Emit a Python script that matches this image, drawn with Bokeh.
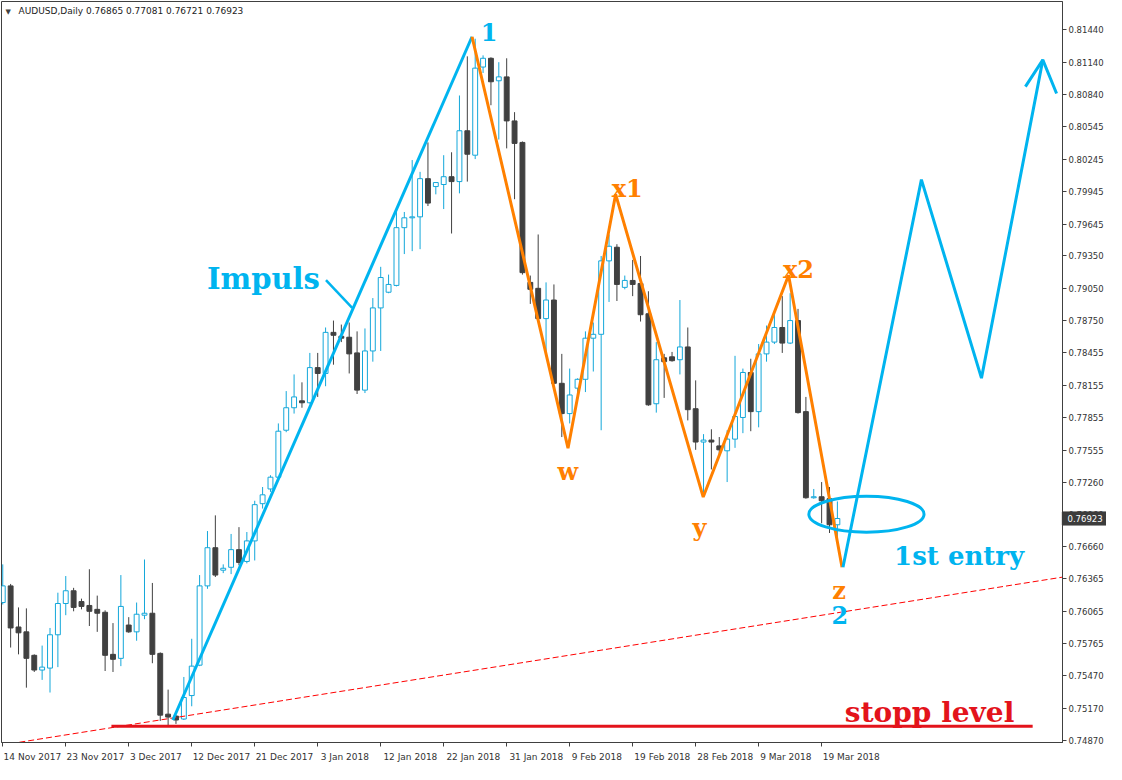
from bokeh.plotting import figure
from bokeh.models import Range1d, FixedTicker, PrintfTickFormatter, Label
from bokeh.core.properties import value
from bokeh.embed import file_html
from bokeh.resources import INLINE

# ---------------- data ----------------
symbol = "AUDUSD,Daily"
tick_labels = ["14 Nov 2017", "23 Nov 2017", "3 Dec 2017", "12 Dec 2017", "21 Dec 2017",
               "3 Jan 2018", "12 Jan 2018", "22 Jan 2018", "31 Jan 2018", "9 Feb 2018",
               "19 Feb 2018", "28 Feb 2018", "9 Mar 2018", "19 Mar 2018"]
bars_per_label = 8

opens = [0.76146, 0.76300, 0.75920, 0.75875, 0.75658, 0.75522, 0.75540, 0.75848, 0.76137, 0.76255,
         0.76155, 0.76119, 0.76083, 0.76056, 0.75667, 0.75630, 0.75938, 0.75875, 0.76029, 0.76047,
         0.75676, 0.75114, 0.75096, 0.75069, 0.75286, 0.75567, 0.76300, 0.76653, 0.76445, 0.76472,
         0.76635, 0.76526, 0.76716, 0.77060, 0.77196, 0.77305, 0.77739, 0.77947, 0.78011, 0.77993,
         0.78318, 0.78264, 0.78644, 0.78608, 0.78599, 0.78454, 0.78110, 0.78472, 0.78870, 0.79015,
         0.79078, 0.79612, 0.79703, 0.79712, 0.80065, 0.79992, 0.80011, 0.80083, 0.80038, 0.80508,
         0.80282, 0.81097, 0.81178, 0.80970, 0.81006, 0.80599, 0.80400, 0.79106, 0.79051, 0.78771,
         0.78943, 0.78173, 0.77893, 0.78128, 0.78210, 0.78590, 0.78626, 0.79305, 0.79431, 0.79060,
         0.79124, 0.79096, 0.78816, 0.77984, 0.78409, 0.78418, 0.78391, 0.78509, 0.77938, 0.77630,
         0.77648, 0.77594, 0.77549, 0.77657, 0.77857, 0.78273, 0.77911, 0.78445, 0.78554, 0.78689,
         0.78545, 0.78753, 0.77911, 0.77115, 0.77124, 0.77106, 0.76865]
highs = [0.76499, 0.76318, 0.76101, 0.76092, 0.75667, 0.75748, 0.75911, 0.76237, 0.76391, 0.76282,
         0.76182, 0.76454, 0.76210, 0.76074, 0.75956, 0.76400, 0.76011, 0.76146, 0.76544, 0.76327,
         0.75685, 0.75341, 0.75105, 0.75458, 0.75811, 0.76400, 0.76807, 0.76952, 0.76499, 0.76780,
         0.76843, 0.76798, 0.77087, 0.77214, 0.77323, 0.77802, 0.78101, 0.78255, 0.78182, 0.78454,
         0.78454, 0.78689, 0.78753, 0.78716, 0.78735, 0.78653, 0.78680, 0.78961, 0.79250, 0.79178,
         0.79775, 0.79757, 0.80237, 0.80128, 0.80400, 0.80029, 0.80282, 0.80309, 0.80834, 0.81196,
         0.81359, 0.81205, 0.81187, 0.81142, 0.81178, 0.80680, 0.80409, 0.79169, 0.79549, 0.79106,
         0.79087, 0.78445, 0.78309, 0.78219, 0.78653, 0.78735, 0.79350, 0.79549, 0.79459, 0.79169,
         0.79314, 0.79350, 0.79024, 0.78554, 0.78445, 0.78463, 0.78943, 0.78689, 0.78200, 0.77703,
         0.77748, 0.77676, 0.77739, 0.78427, 0.78309, 0.78400, 0.78536, 0.78707, 0.78825, 0.78979,
         0.79006, 0.78861, 0.78047, 0.77196, 0.77260, 0.77214, 0.77081]
lows = [0.76128, 0.75730, 0.75667, 0.75359, 0.75504, 0.75431, 0.75314, 0.75549, 0.76029, 0.76065,
        0.76083, 0.75929, 0.75875, 0.75513, 0.75504, 0.75558, 0.75866, 0.75793, 0.75992, 0.75585,
        0.75051, 0.75006, 0.75024, 0.75060, 0.75187, 0.75558, 0.76273, 0.76382, 0.76418, 0.76409,
        0.76490, 0.76508, 0.76535, 0.77015, 0.77169, 0.77287, 0.77721, 0.77893, 0.77947, 0.77984,
        0.78047, 0.78146, 0.78345, 0.78554, 0.78264, 0.78074, 0.78083, 0.78373, 0.78472, 0.79006,
        0.79069, 0.79368, 0.79395, 0.79413, 0.79812, 0.79920, 0.79784, 0.79558, 0.79929, 0.80038,
        0.80246, 0.81042, 0.80744, 0.80427, 0.80345, 0.79875, 0.79178, 0.78907, 0.78760, 0.78463,
        0.78164, 0.77676, 0.77802, 0.78092, 0.78092, 0.78282, 0.77739, 0.78925, 0.78934, 0.79042,
        0.78979, 0.78744, 0.77965, 0.77902, 0.78038, 0.78373, 0.78255, 0.77830, 0.77558, 0.77133,
        0.77377, 0.77495, 0.77260, 0.77576, 0.77712, 0.77730, 0.77766, 0.78373, 0.78536, 0.78454,
        0.78536, 0.77893, 0.77106, 0.77106, 0.76879, 0.76789, 0.76721]
closes = [0.76300, 0.75911, 0.75866, 0.75630, 0.75522, 0.75549, 0.75848, 0.76137, 0.76255, 0.76101,
          0.76110, 0.76065, 0.76047, 0.75658, 0.75621, 0.76110, 0.75875, 0.76038, 0.76047, 0.75667,
          0.75105, 0.75087, 0.75060, 0.75268, 0.75558, 0.76300, 0.76653, 0.76400, 0.76463, 0.76635,
          0.76517, 0.76716, 0.77051, 0.77142, 0.77305, 0.77730, 0.77947, 0.78047, 0.77993, 0.78318,
          0.78264, 0.78644, 0.78617, 0.78590, 0.78445, 0.78110, 0.78472, 0.78870, 0.79151, 0.79087,
          0.79612, 0.79703, 0.79712, 0.80065, 0.79839, 0.80029, 0.80083, 0.80038, 0.80508, 0.80291,
          0.81087, 0.81178, 0.80961, 0.81006, 0.80599, 0.80391, 0.79196, 0.79042, 0.78771, 0.78943,
          0.78173, 0.77893, 0.78065, 0.78210, 0.78590, 0.78626, 0.79305, 0.79440, 0.79087, 0.79124,
          0.79087, 0.78807, 0.77974, 0.78391, 0.78373, 0.78382, 0.78509, 0.77929, 0.77630, 0.77648,
          0.77630, 0.77558, 0.77657, 0.77866, 0.78273, 0.77911, 0.78445, 0.78554, 0.78689, 0.78545,
          0.78753, 0.77902, 0.77115, 0.77124, 0.77087, 0.76865, 0.76923]

price_ticks = [0.81440, 0.81140, 0.80840, 0.80545, 0.80245, 0.79945, 0.79645, 0.79350, 0.79050,
               0.78750, 0.78455, 0.78155, 0.77855, 0.77555, 0.77260, 0.76960, 0.76660, 0.76365,
               0.76065, 0.75765, 0.75470, 0.75170, 0.74870]

# hand-drawn analysis (bar index, price)
impulse_x = [21.6, 59.6]
impulse_y = [0.75060, 0.81377]
pointer_x = [41.05, 44.38]
pointer_y = [0.79126, 0.78870]
wave_x = [59.6, 71.79, 77.84, 88.96, 99.8, 106.59]
wave_y = [0.81377, 0.77573, 0.79920, 0.77121, 0.79172, 0.76472]
proj_x = [106.71, 116.67, 124.3, 132.09]
proj_y = [0.76472, 0.80056, 0.78221, 0.81163]
arrow_x = [129.88, 132.09, 133.84]
arrow_y = [0.80916, 0.81163, 0.80852]
entry_x, entry_y, entry_w, entry_h = 109.69, 0.76963, 14.63, 0.00332
stop_x = [13.8, 130.8]
stop_y = [0.75003, 0.75003]
trend_x = [-0.16, 134.59]
trend_y = [0.74828, 0.76381]

orange_labels = ["w", "x1", "y", "x2", "z"]
orange_label_x = [71.77, 79.31, 88.5, 101.06, 106.2]
orange_label_y = [0.77359, 0.79974, 0.76843, 0.79223, 0.76255]
blue_labels = ["1", "2"]
blue_label_x = [61.78, 106.3]
blue_label_y = [0.81422, 0.76035]
entry_text, entry_text_x, entry_text_y = "1st entry", 121.46, 0.76572
impuls_text, impuls_x, impuls_y = "Impuls", 33.1, 0.79133
stop_text, stop_text_x, stop_text_y = "stopp level", 117.71, 0.75133

# ---------------- styling ----------------
BULL = "#13A7DA"
BEAR = "#404040"
BLUE = "#00B4EF"
ORANGE = "#FF8000"
RED = "#E3131B"
AXIS = "#404040"
FONT = "DejaVu Sans"
SERIF = "DejaVu Serif"

x_start, x_end = -0.16, 134.59
y_start, y_end = 0.74852, 0.81703

p = figure(width=1106, height=764, output_backend="svg", toolbar_location=None,
           x_range=Range1d(x_start, x_end), y_range=Range1d(y_start, y_end),
           y_axis_location="right", x_axis_location="below",
           min_border_left=1, min_border_top=1, min_border_right=0, min_border_bottom=0,
           background_fill_color="white", border_fill_color="white")
p.xgrid.visible = False
p.ygrid.visible = False
p.outline_line_color = AXIS
p.outline_line_width = 1

# x axis: dates every 8 bars (labels start at the tick, as in the terminal)
n = len(opens)
idx = list(range(n))
bar_px = 1055 / (x_end - x_start)
tick_pos = [i * bars_per_label for i in range(len(tick_labels))]
label_pos = [t + (2 + 2.5 * len(lbl)) / bar_px for t, lbl in zip(tick_pos, tick_labels)]
xa = p.xaxis[0]
xa.ticker = FixedTicker(ticks=label_pos, minor_ticks=tick_pos)
xa.major_label_overrides = {pos: lbl for pos, lbl in zip(label_pos, tick_labels)}
xa.major_tick_out = 0
xa.major_tick_in = 0
xa.minor_tick_out = 4
xa.minor_tick_in = 0
xa.minor_tick_line_color = AXIS
xa.axis_line_color = AXIS
xa.major_label_standoff = 5
xa.major_label_text_font = FONT
xa.major_label_text_font_size = "9px"
xa.major_label_text_color = "#333333"

ya = p.yaxis[0]
ya.ticker = FixedTicker(ticks=price_ticks)
ya.formatter = PrintfTickFormatter(format="%.5f")
ya.major_tick_out = 4
ya.major_tick_in = 0
ya.minor_tick_out = 0
ya.minor_tick_in = 0
ya.major_tick_line_color = AXIS
ya.axis_line_color = AXIS
ya.major_label_standoff = 2
ya.major_label_text_font = FONT
ya.major_label_text_font_size = "8.5px"
ya.major_label_text_color = "#333333"

# ---------------- candles ----------------
is_bull = [c >= o for o, c in zip(opens, closes)]
colors = [BULL if b else BEAR for b in is_bull]
fills = ["white" if b else BEAR for b in is_bull]
tops = [max(o, c) for o, c in zip(opens, closes)]
bottoms = [min(o, c) for o, c in zip(opens, closes)]

p.segment(x0=idx, y0=highs, x1=idx, y1=lows, line_color=colors, line_width=1)
p.vbar(x=idx, width=0.62, top=tops, bottom=bottoms, fill_color=fills, line_color=colors, line_width=1)

# ---------------- analysis drawing ----------------
p.line(trend_x, trend_y, line_color="#FF0000", line_width=1, line_dash="6 3")
p.line(stop_x, stop_y, line_color=RED, line_width=3)
p.line(impulse_x, impulse_y, line_color=BLUE, line_width=3)
p.line(pointer_x, pointer_y, line_color=BLUE, line_width=2.5)
p.line(wave_x, wave_y, line_color=ORANGE, line_width=3)
p.line(proj_x, proj_y, line_color=BLUE, line_width=3)
p.line(arrow_x, arrow_y, line_color=BLUE, line_width=3)
p.ellipse(x=[entry_x], y=[entry_y], width=[entry_w], height=[entry_h],
          fill_alpha=0, line_color=BLUE, line_width=3)

p.text(x=orange_label_x, y=orange_label_y, text=orange_labels, text_color=ORANGE,
       text_font=value(SERIF), text_font_style="bold", text_font_size="24px",
       text_align="center", text_baseline="alphabetic")
p.text(x=blue_label_x, y=blue_label_y, text=blue_labels, text_color=BLUE,
       text_font=value(SERIF), text_font_style="bold", text_font_size="24px",
       text_align="center", text_baseline="alphabetic")
p.text(x=[entry_text_x], y=[entry_text_y], text=[entry_text], text_color=BLUE,
       text_font=value(SERIF), text_font_style="bold", text_font_size="26px",
       text_align="center", text_baseline="alphabetic")
p.text(x=[impuls_x], y=[impuls_y], text=[impuls_text], text_color=BLUE,
       text_font=value(SERIF), text_font_style="bold", text_font_size="29px",
       text_align="center", text_baseline="alphabetic")
p.text(x=[stop_text_x], y=[stop_text_y], text=[stop_text], text_color=RED,
       text_font=value(SERIF), text_font_style="bold", text_font_size="28px",
       text_align="center", text_baseline="alphabetic")

# ---------------- header ----------------
header = f"{symbol}  {opens[-1]:.5f} {highs[-1]:.5f} {lows[-1]:.5f} {closes[-1]:.5f}"
p.add_layout(Label(x=x_start, y=y_end, x_offset=4, y_offset=-6, text="\u25BC",
                   text_font=FONT, text_font_size="7px", text_color="#404040",
                   text_baseline="top"))
p.add_layout(Label(x=x_start, y=y_end, x_offset=17, y_offset=-4, text=header,
                   text_font=FONT, text_font_size="9px", text_color="#222222",
                   text_baseline="top"))

# ---------------- last-price marker on the price scale ----------------
# drawn at the "overlay" level, which is not clipped to the frame
px_per_price = 735 / (y_end - y_start)
half_h = 6.5 / px_per_price
p.quad(left=[x_end - 0.02], right=[x_end + 45 / bar_px], top=[closes[-1] + half_h],
       bottom=[closes[-1] - half_h], fill_color="#3C3C3C", line_color="#3C3C3C", level="overlay")
p.text(x=[x_end - 0.001], y=[closes[-1]], text=[f"{closes[-1]:.5f}"], x_offset=5,
       text_color="white", text_font=value(FONT), text_font_size="8.5px",
       text_align="left", text_baseline="middle", level="overlay")

open("out.html", "w").write(file_html(p, INLINE))
